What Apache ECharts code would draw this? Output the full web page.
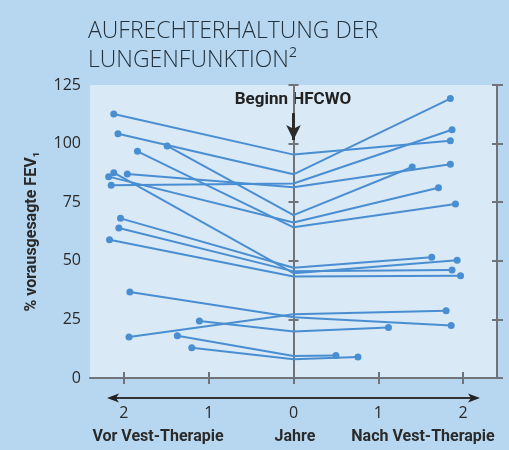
<!DOCTYPE html>
<html>
<head>
<meta charset="utf-8">
<script src="https://cdn.jsdelivr.net/npm/echarts@6/dist/echarts.min.js"></script>
<style>
  html, body { margin: 0; padding: 0; background: #b7d7f0; }
  #chart { width: 509px; height: 450px; }
</style>
</head>
<body>
<div id="chart"></div>
<script>
// one entry per patient: years before vest, FEV1 then, FEV1 at start, years after, FEV1 then
var preYears    = [-2.12, -2.07, -1.84, -1.49, -1.96, -2.15, -2.18, -2.12, -2.04, -2.06, -2.17, -1.93, -1.94, -1.11, -1.37, -1.20];
var preValues   = [112.6, 104.2, 96.7, 99.0, 87.0, 82.2, 85.9, 87.6, 68.1, 64.0, 59.0, 36.7, 17.5, 24.3, 18.0, 12.9];
var startValues = [95.3, 86.9, 64.3, 69.5, 81.4, 83.0, 66.3, 44.7, 47.0, 45.5, 43.3, 25.9, 27.2, 19.8, 9.4, 8.0];
var postYears   = [1.85, 1.85, 1.91, 1.40, 1.85, 1.87, 1.71, 1.93, 1.63, 1.87, 1.97, 1.86, 1.80, 1.12, 0.50, 0.76];
var postValues  = [101.2, 119.2, 74.2, 90.0, 91.2, 105.9, 81.2, 50.2, 51.5, 46.1, 43.6, 22.4, 28.7, 21.5, 9.6, 9.0];

var xTicks = [-2, -1, 0, 1, 2];
var yMin = 0, yMax = 125, yStep = 25;

var myChart = echarts.init(document.getElementById('chart'));

var blue = '#4a8ed2';
var axisGray = '#707478';

var series = preValues.map(function (v, i) {
  return {
    type: 'line',
    data: [[preYears[i], preValues[i]], [0, startValues[i]], [postYears[i], postValues[i]]],
    symbol: 'circle',
    symbolSize: function (val, p) { return p.dataIndex === 1 ? 0 : 7; },
    lineStyle: { color: blue, width: 2 },
    itemStyle: { color: blue },
    silent: true
  };
});

// vertical "Beginn HFCWO" line with arrow
series.push({
  type: 'line',
  data: [],
  clip: false,
  z: 5,
  markLine: {
    silent: true,
    animation: false,
    symbol: ['none', 'none'],
    label: { show: false },
    lineStyle: { color: '#2b2b2b', width: 3, type: 'solid' },
    data: [
      [{ coord: [0, 113] }, { coord: [0, -3] }],
      [{ coord: [0, 113] }, { coord: [0, 101.5], symbol: 'arrow', symbolSize: [11, 15] }]
    ]
  }
});

var yBase = { type: 'value', min: yMin, max: yMax, interval: yStep, splitLine: { show: false } };

option = {
  backgroundColor: '#b7d7f0',
  animation: false,
  textStyle: { fontFamily: 'Open Sans' },
  grid: {
    left: 90, right: 12, top: 85, bottom: 72,
    show: true, backgroundColor: '#d9e9f6', borderWidth: 0
  },
  xAxis: [
    {
      type: 'value', min: -2.4, max: 2.4,
      splitLine: { show: false },
      axisLine: { lineStyle: { color: axisGray, width: 2 } },
      axisTick: { customValues: xTicks, length: 6, lineStyle: { color: axisGray, width: 2 } },
      axisLabel: {
        customValues: xTicks, margin: 27, color: '#2a2a2a', fontSize: 16,
        formatter: function (v) { return Math.abs(v); }
      }
    },
    {
      type: 'value', min: -2.4, max: 2.4, position: 'bottom',
      splitLine: { show: false },
      axisLine: { show: false },
      axisTick: { customValues: xTicks, inside: true, length: 6, lineStyle: { color: axisGray, width: 2 } },
      axisLabel: { show: false }
    }
  ],
  yAxis: [
    Object.assign({}, yBase, {
      position: 'left',
      name: '% vorausgesagte FEV\u2081',
      nameLocation: 'middle',
      nameGap: 50,
      nameTextStyle: { fontSize: 16, fontWeight: 'bold', color: '#2a2a2a', fontFamily: 'Roboto' },
      axisLine: { show: true, lineStyle: { color: axisGray, width: 2 } },
      axisTick: { length: 5, lineStyle: { color: axisGray, width: 2 } },
      axisLabel: { margin: 9, color: '#2a2a2a', fontSize: 16 }
    }),
    Object.assign({}, yBase, {
      position: 'left',
      axisLine: { show: false },
      axisTick: { inside: true, length: 5, lineStyle: { color: axisGray, width: 2 } },
      axisLabel: { show: false }
    }),
    Object.assign({}, yBase, {
      position: 'right',
      axisLine: { show: true, lineStyle: { color: axisGray, width: 2 } },
      axisTick: { length: 6, lineStyle: { color: axisGray, width: 2 } },
      axisLabel: { show: false }
    }),
    Object.assign({}, yBase, {
      position: 'right',
      axisLine: { show: false },
      axisTick: { inside: true, length: 5, lineStyle: { color: axisGray, width: 2 } },
      axisLabel: { show: false }
    })
  ],
  graphic: [
    {
      type: 'text', left: 88, top: 17,
      style: {
        text: 'AUFRECHTERHALTUNG DER\nLUNGENFUNKTION\u00b2',
        font: '300 23px "Open Sans"', fill: '#25313b', lineHeight: 29
      }
    },
    {
      type: 'text', x: 293, y: 100,
      style: {
        text: 'Beginn HFCWO', font: 'bold 17px Roboto', fill: '#222',
        align: 'center', verticalAlign: 'middle'
      }
    },
    {
      type: 'line', shape: { x1: 112, y1: 398, x2: 475, y2: 398 },
      style: { stroke: '#333', lineWidth: 2 }
    },
    {
      type: 'polygon', shape: { points: [[107, 398], [119, 393.5], [116, 398], [119, 402.5]] },
      style: { fill: '#222' }
    },
    {
      type: 'polygon', shape: { points: [[480, 398], [468, 393.5], [471, 398], [468, 402.5]] },
      style: { fill: '#222' }
    },
    {
      type: 'text', x: 158, y: 437,
      style: { text: 'Vor Vest-Therapie', font: 'bold 16px Roboto', fill: '#2a2a2a', align: 'center', verticalAlign: 'middle' }
    },
    {
      type: 'text', x: 295, y: 437,
      style: { text: 'Jahre', font: 'bold 16px Roboto', fill: '#2a2a2a', align: 'center', verticalAlign: 'middle' }
    },
    {
      type: 'text', x: 423, y: 437,
      style: { text: 'Nach Vest-Therapie', font: 'bold 16px Roboto', fill: '#2a2a2a', align: 'center', verticalAlign: 'middle' }
    }
  ],
  series: series
};

myChart.setOption(option);
</script>
</body>
</html>
